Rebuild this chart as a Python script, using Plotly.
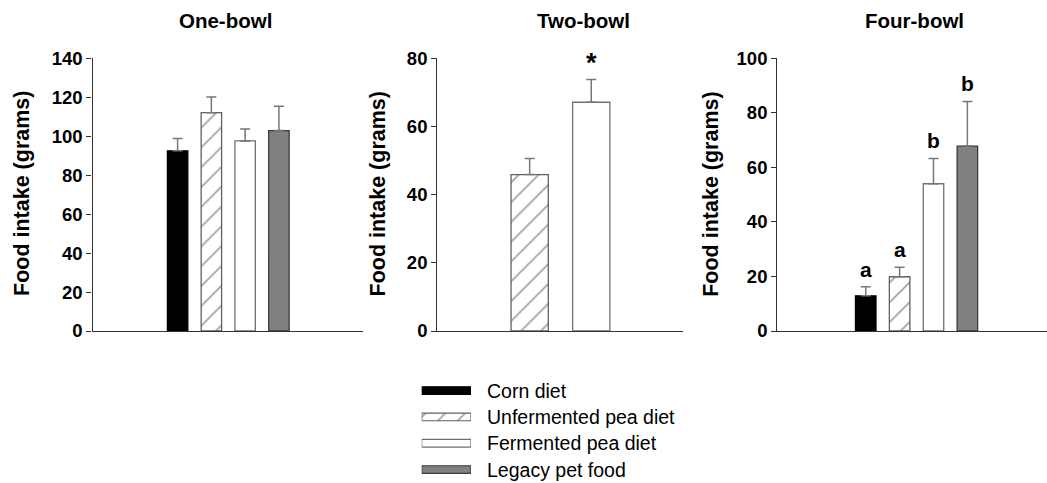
import plotly.graph_objects as go

# ---------------- data ----------------
diets = ["Corn diet", "Unfermented pea diet", "Fermented pea diet", "Legacy pet food"]

one_bowl_mean = [92.5, 112.1, 97.6, 102.9]
one_bowl_err = [6.3, 8.0, 6.1, 12.5]

two_bowl_diets = ["Unfermented pea diet", "Fermented pea diet"]
two_bowl_mean = [45.9, 67.1]
two_bowl_err = [4.7, 6.7]
two_bowl_sig = ["", "*"]

four_bowl_mean = [12.9, 19.9, 54.0, 67.8]
four_bowl_err = [3.3, 3.5, 9.3, 16.4]
four_bowl_sig = ["a", "a", "b", "b"]

panel_titles = ["One-bowl", "Two-bowl", "Four-bowl"]
y_title = "Food intake (grams)"
y_ranges = [[0, 140], [0, 80], [0, 100]]

# ---------------- styles ----------------
FONT = "Liberation Sans, Arial, sans-serif"
style = {
    "Corn diet": dict(fill="#000000", line="#000000", shape=""),
    "Unfermented pea diet": dict(fill="#ffffff", line="#606060", shape="/"),
    "Fermented pea diet": dict(fill="#ffffff", line="#707070", shape=""),
    "Legacy pet food": dict(fill="#808080", line="#3a3a3a", shape=""),
}
HATCH = dict(fgcolor="#222222", bgcolor="#ffffff", size=14, solidity=0.12)

W, H = 1047, 483


def px_x(p):
    return p / W


def px_y(p):
    return (H - p) / H


fig = go.Figure()


def add_panel(idx, names, means, errs, sig=None):
    xs = list(range(len(names)))
    ax = "" if idx == 1 else str(idx)
    fig.add_trace(go.Bar(
        x=xs, y=means,
        width=0.605,
        xaxis="x" + ax, yaxis="y" + ax,
        marker=dict(
            color=[style[n]["fill"] for n in names],
            line=dict(color=[style[n]["line"] for n in names], width=1.3),
            pattern=dict(shape=[style[n]["shape"] for n in names], **HATCH),
        ),
        error_y=dict(type="data", symmetric=False, array=errs,
                     arrayminus=[0] * len(errs), color="#777777",
                     thickness=1.5, width=5),
        showlegend=False, hoverinfo="skip",
    ))
    if sig:
        for x, m, e, s in zip(xs, means, errs, sig):
            if s:
                fig.add_annotation(
                    x=x, y=m + e, xref="x" + ax, yref="y" + ax,
                    text="<b>%s</b>" % s, showarrow=False, yanchor="bottom",
                    yshift=4 if s != "*" else -1,
                    font=dict(family=FONT, size=21 if s != "*" else 27,
                              color="#000000"),
                )


add_panel(1, diets, one_bowl_mean, one_bowl_err)
add_panel(2, two_bowl_diets, two_bowl_mean, two_bowl_err, two_bowl_sig)
add_panel(3, diets, four_bowl_mean, four_bowl_err, four_bowl_sig)

# legend drawn as a small horizontal-bar axis
fig.add_trace(go.Bar(
    y=list(range(len(diets))), x=[1] * len(diets),
    orientation="h", width=0.29,
    xaxis="x4", yaxis="y4",
    marker=dict(
        color=[style[n]["fill"] for n in diets],
        line=dict(color=[style[n]["line"] for n in diets], width=1.2),
        pattern=dict(shape=[style[n]["shape"] for n in diets], **HATCH),
    ),
    showlegend=False, hoverinfo="skip",
))
for i, n in enumerate(diets):
    fig.add_annotation(
        x=px_x(485), y=i, xref="paper", yref="y4",
        text=n, showarrow=False, xanchor="left", yanchor="middle",
        font=dict(family=FONT, size=19.5, color="#000000"),
    )

x_domains = [[px_x(92.5), px_x(363)], [px_x(437.3), px_x(683)], [px_x(777.3), 1.0]]
x_ranges = [[-2.52, 5.49], [-1.50, 2.49], [-2.61, 5.35]]
y_domain = [px_y(331), px_y(58.3)]
title_x = [225, 583.3, 914.7]
ytitle_x = [22, 377.5, 710.8]

layout = dict(
    width=W, height=H, autosize=False,
    margin=dict(l=0, r=0, t=0, b=0, pad=0, autoexpand=False),
    paper_bgcolor="#ffffff", plot_bgcolor="#ffffff",
    barmode="overlay",
    showlegend=False,
)
for k in range(3):
    ax = "" if k == 0 else str(k + 1)
    layout["xaxis" + ax] = dict(
        domain=x_domains[k], range=x_ranges[k], anchor="y" + ax,
        showline=True, linecolor="#333333", linewidth=1.3, automargin=False,
        showticklabels=False, ticks="", showgrid=False, zeroline=False,
    )
    layout["yaxis" + ax] = dict(
        domain=y_domain, range=y_ranges[k], anchor="x" + ax, automargin=False,
        dtick=20, showline=True, linecolor="#333333", linewidth=1.3,
        ticks="outside", ticklen=5, tickwidth=1.2, tickcolor="#333333",
        tickfont=dict(family=FONT, size=18.5, color="#000000", weight="bold"),
        showgrid=False, zeroline=False,
    )
    fig.add_annotation(
        x=px_x(title_x[k]), y=px_y(21), xref="paper", yref="paper",
        text="<b>%s</b>" % panel_titles[k], showarrow=False,
        xanchor="center", yanchor="middle",
        font=dict(family=FONT, size=20.5, color="#000000"),
    )
    fig.add_annotation(
        x=px_x(ytitle_x[k]), y=px_y(194), xref="paper", yref="paper",
        text="<b>%s</b>" % y_title, showarrow=False, textangle=-90,
        xanchor="center", yanchor="middle",
        font=dict(family=FONT, size=21.5, color="#000000"),
    )

layout["xaxis4"] = dict(domain=[px_x(421.7), px_x(471)], range=[0, 1],
                        anchor="y4", visible=False, fixedrange=True)
layout["yaxis4"] = dict(domain=[px_y(482.7), px_y(377.5)], range=[3.5, -0.5],
                        anchor="x4", visible=False, fixedrange=True)

fig.update_layout(**layout)

fig.write_html(
    "out.html",
    post_script="document.body.style.margin='0';document.body.style.overflow='hidden';",
)
